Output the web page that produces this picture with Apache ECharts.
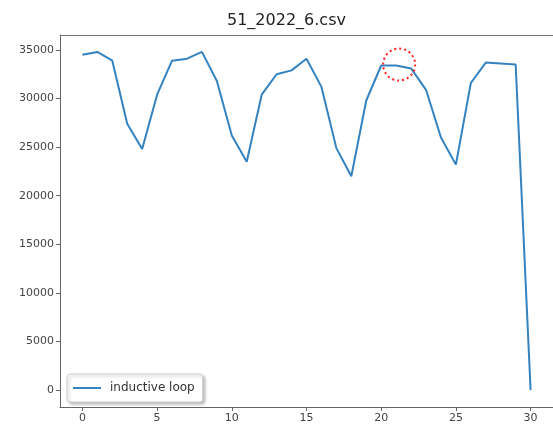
<!DOCTYPE html>
<html>
<head>
<meta charset="utf-8">
<script src="https://cdn.jsdelivr.net/npm/echarts@6/dist/echarts.min.js"></script>
<style>
html,body{margin:0;padding:0;background:#fff;}
#chart{width:553px;height:432px;}
</style>
</head>
<body>
<div id="chart"></div>
<script>
var xValues = [0,1,2,3,4,5,6,7,8,9,10,11,12,13,14,15,16,17,18,19,20,21,22,23,24,25,26,27,28,29,30];
var loopValues = [34500,34800,33900,27400,24800,30400,33900,34100,34800,31800,26200,23500,30400,32500,32900,34100,31200,24900,22000,29800,33400,33400,33100,30900,26000,23200,31600,33700,33600,33500,0];
var xTicks = [0,5,10,15,20,25,30];
var yTicks = [0,5000,10000,15000,20000,25000,30000,35000];
var highlight = [21.2, 33500];

var chart = echarts.init(document.getElementById('chart'), null, {renderer:'canvas'});
var font = 'DejaVu Sans';
chart.setOption({
  animation:false,
  backgroundColor:'#fff',
  textStyle:{fontFamily:font},
  title:{
    text:'51_2022_6.csv',
    left:222, top:8,
    textStyle:{fontFamily:font,fontSize:16,fontWeight:'normal',color:'#222'}
  },
  grid:{left:60, top:35, width:496, height:372, show:false, containLabel:false},
  legend:{
    left:67, top:374,
    data:['inductive loop'],
    icon:'rect',
    itemWidth:28, itemHeight:2,
    itemGap:6,
    padding:[8,8,8,6],
    backgroundColor:'#fff',
    borderColor:'#ccc', borderWidth:1, borderRadius:3,
    shadowColor:'rgba(0,0,0,0.25)', shadowBlur:3, shadowOffsetX:2, shadowOffsetY:2,
    textStyle:{fontFamily:font,fontSize:12,color:'#333',padding:[0,0,0,4]}
  },
  xAxis:[{
    type:'value', min:-1.5, max:31.5,
    axisLine:{show:true,onZero:false,lineStyle:{color:'#666',width:1}},
    axisTick:{show:true,length:4,customValues:xTicks,lineStyle:{color:'#666'}},
    axisLabel:{customValues:xTicks,fontFamily:font,fontSize:11,color:'#444',margin:6,formatter:function(v){return String(v);}},
    splitLine:{show:false}
  },{
    type:'value', position:'top', min:-1.5, max:31.5,
    axisLine:{show:true,onZero:false,lineStyle:{color:'#777',width:1}},
    axisTick:{show:false}, axisLabel:{show:false}, splitLine:{show:false}
  }],
  yAxis:{
    type:'value', min:-1740, max:36540,
    axisLine:{show:true,onZero:false,lineStyle:{color:'#666',width:1}},
    axisTick:{show:true,length:4,customValues:yTicks,lineStyle:{color:'#666'}},
    axisLabel:{customValues:yTicks,fontFamily:font,fontSize:11,color:'#444',margin:6,formatter:function(v){return String(v);}},
    splitLine:{show:false}
  },
  series:[{
    name:'inductive loop',
    type:'line',
    xAxisIndex:0,
    data:xValues.map(function(x,i){return [x, loopValues[i]];}),
    showSymbol:false,
    lineStyle:{color:'#3483c0',width:2},
    itemStyle:{color:'#3483c0'},
    markPoint:{
      symbol:'circle', symbolSize:32,
      label:{show:false},
      itemStyle:{color:'transparent',borderColor:'#ff2020',borderWidth:2,borderType:[2,3]},
      data:[{coord:highlight}]
    }
  }]
});
</script>
</body>
</html>
